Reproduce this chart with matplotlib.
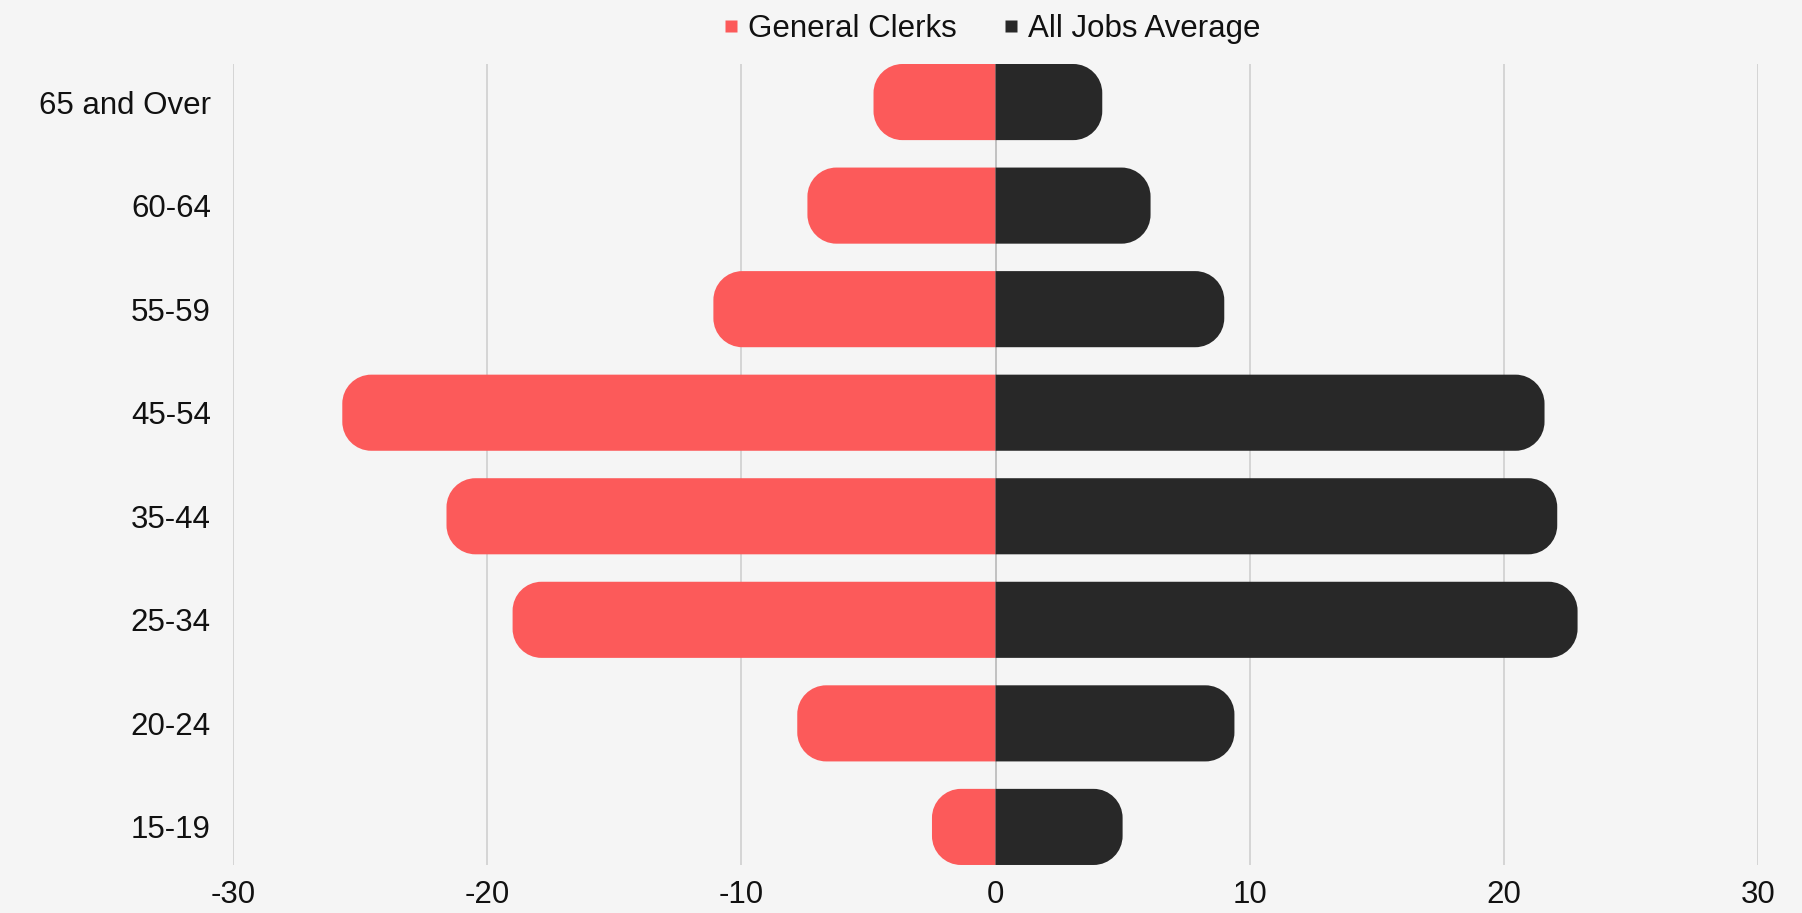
import numpy as np
import matplotlib
matplotlib.use("Agg")
import matplotlib.pyplot as plt
from matplotlib.path import Path
from matplotlib.patches import PathPatch
from matplotlib.lines import Line2D

# Данные (снизу вверх)
age_groups = ['15-19', '20-24', '25-34', '35-44', '45-54', '55-59', '60-64', '65 and Over']
general_clerks = [2.5, 7.8, 19.0, 21.6, 25.7, 11.1, 7.4, 4.8]
all_jobs = [5.0, 9.4, 22.9, 22.1, 21.6, 9.0, 6.1, 4.2]

RED = '#FC5A5A'
DARK = '#282828'
BG = '#F5F5F5'

plt.rcParams['font.family'] = ['Liberation Sans', 'DejaVu Sans']
plt.rcParams['axes.unicode_minus'] = False

fig = plt.figure(figsize=(18.02, 9.13), dpi=100, facecolor=BG)
ax = fig.add_axes([0.1293, 0.0526, 0.8463, 0.8773])
ax.set_facecolor(BG)

bar_h = 0.735
y = np.arange(len(age_groups))
ax.set_xlim(-30, 30)
ax.set_ylim(-bar_h / 2, len(age_groups) - 1 + bar_h / 2)

# радиус скругления в пикселях -> в единицах данных по каждой оси
r_px = 29
bbox = ax.get_window_extent()
rx = r_px * 60 / bbox.width
ry = r_px * (len(age_groups) - 1 + bar_h) / bbox.height
k = 0.5523


def rounded_bar(v, yc, color):
    # прямоугольник от 0 до v, скруглён только внешний конец
    y0, y1 = yc - bar_h / 2, yc + bar_h / 2
    d = rx * np.sign(v)
    verts = [
        (0, y0), (v - d, y0),
        (v - d + k * d, y0), (v, y0 + ry - k * ry), (v, y0 + ry),
        (v, y1 - ry),
        (v, y1 - ry + k * ry), (v - d + k * d, y1), (v - d, y1),
        (0, y1), (0, y0),
    ]
    codes = [Path.MOVETO, Path.LINETO,
             Path.CURVE4, Path.CURVE4, Path.CURVE4,
             Path.LINETO,
             Path.CURVE4, Path.CURVE4, Path.CURVE4,
             Path.LINETO, Path.CLOSEPOLY]
    ax.add_patch(PathPatch(Path(verts, codes), facecolor=color,
                           edgecolor='none', zorder=3))


for yc, gc, aj in zip(y, general_clerks, all_jobs):
    rounded_bar(-gc, yc, RED)
    rounded_bar(aj, yc, DARK)

# Сетка
ax.set_xticks(np.arange(-30, 31, 10))
ax.grid(axis='x', color='#CFCFCF', linewidth=1.2, zorder=0)
ax.axvline(0, color='#6E6E6E', linewidth=1.2, zorder=1)

ax.set_yticks(y)
ax.set_yticklabels(age_groups)
ax.tick_params(axis='both', length=0, labelsize=22.5, colors='#111111')
ax.tick_params(axis='x', pad=11)
ax.tick_params(axis='y', pad=16)

for s in ax.spines.values():
    s.set_visible(False)

# Легенда
handles = [
    Line2D([], [], linestyle='none', marker='s', markersize=8.5,
           markerfacecolor=RED, markeredgecolor='none', label='General Clerks'),
    Line2D([], [], linestyle='none', marker='s', markersize=8.5,
           markerfacecolor=DARK, markeredgecolor='none', label='All Jobs Average'),
]
fig.legend(handles=handles, loc='center', bbox_to_anchor=(0.5504, 0.968),
           ncol=2, frameon=False, fontsize=22.5, handlelength=0.5,
           handletextpad=0.28, columnspacing=1.5, labelcolor='#111111')

fig.savefig('out.png', dpi=100, facecolor=BG)
